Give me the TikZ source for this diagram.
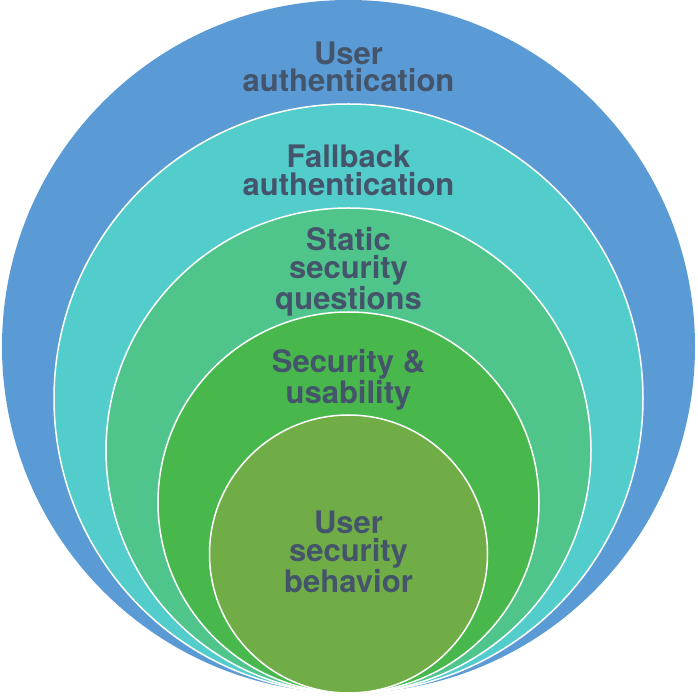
\documentclass[tikz,border=0pt]{standalone}
\usepackage{fontspec}
\setmainfont{TeX Gyre Heros}
\usepackage{xcolor}
\usepackage{tikz}

\definecolor{ringA}{RGB}{91,155,213}
\definecolor{ringB}{RGB}{83,204,204}
\definecolor{ringC}{RGB}{79,197,140}
\definecolor{ringD}{RGB}{72,184,76}
\definecolor{ringE}{RGB}{112,173,71}
\definecolor{labeltext}{RGB}{68,84,106}

\tikzset{
	ring/.style={draw=white,line width=1.5pt},
	lbl/.style={align=center,text=labeltext,font=\fontsize{31}{27.5}\selectfont\bfseries}
}

\begin{document}
\begin{tikzpicture}[x=1pt,y=1pt]
		\useasboundingbox (0,0) rectangle (697,697);

		% Mittelpunkte
		\coordinate (mA) at (348.5,350.5);
		\coordinate (mB) at (348.5,298.5);
		\coordinate (mC) at (348.5,246.5);
		\coordinate (mD) at (348.5,194.5);
		\coordinate (mE) at (348.5,143);

		% Kreise
		\fill[ringA] (mA) circle (346.5);
		\filldraw[ring,fill=ringB] (mB) circle (294.5);
		\filldraw[ring,fill=ringC] (mC) circle (242.5);
		\filldraw[ring,fill=ringD] (mD) circle (190.5);
		\filldraw[ring,fill=ringE] (mE) circle (139);

		% Texte
		\node[lbl] (user) at (348.5,630) {User\\authentication};
		\node[lbl] (fallback) at (348.5,526.5) {Fallback\\authentication};
		\node[lbl] (static) at (348.5,425) {Static\\security\\questions};
		\node[lbl] (usab) at (348.5,317.5) {Security \&\\usability};
		\node[lbl] (behav) at (348.5,145) {User\\security\\behavior};
	\end{tikzpicture}
\end{document}
